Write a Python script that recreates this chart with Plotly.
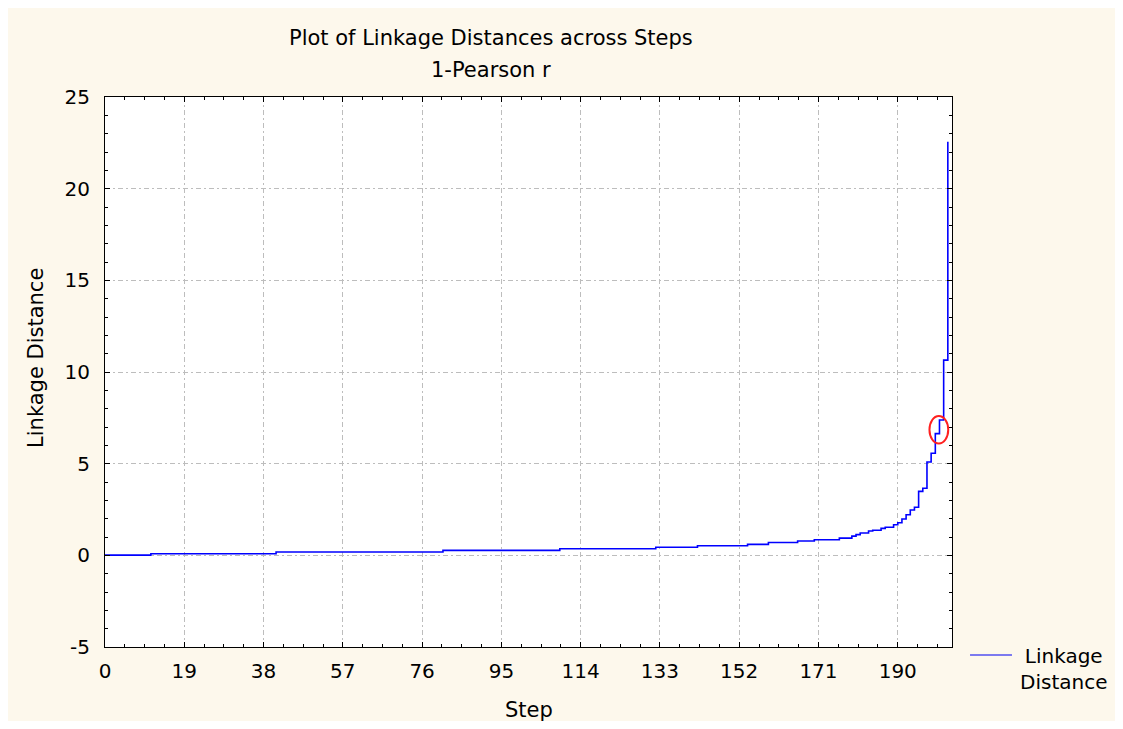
import plotly.graph_objects as go

# Step at which the linkage distance changes, and the new distance value
steps = [0, 11, 41, 81, 109, 132, 142, 154, 159, 166, 170, 176, 179, 180, 181,
         183, 184, 186, 187, 189, 190, 191, 192, 193, 194, 195, 196, 197, 198,
         199, 200, 201, 202]
distances = [0.01, 0.09, 0.18, 0.27, 0.36, 0.44, 0.52, 0.60, 0.70, 0.78, 0.85,
             0.94, 1.05, 1.13, 1.22, 1.33, 1.37, 1.47, 1.53, 1.67, 1.78, 1.98,
             2.21, 2.47, 2.62, 3.49, 3.66, 5.09, 5.57, 6.64, 7.38, 10.65, 22.56]

x_ticks = [0, 19, 38, 57, 76, 95, 114, 133, 152, 171, 190]
y_ticks = [-5, 0, 5, 10, 15, 20, 25]

title_text = "Plot of Linkage Distances across Steps"
subtitle_text = "1-Pearson r"
x_title = "Step"
y_title = "Linkage Distance"
series_name = "Linkage<br>Distance"

# highlighted region (red ellipse) in data units
highlight_x = [197.6, 202.1]
highlight_y = [6.1, 7.6]

FONT = "DejaVu Sans"
CREAM = "#FDF8EC"
GRID = "#BDBDBD"
LINE_COLOR = "#0000FF"

fig = go.Figure()
fig.add_trace(go.Scatter(
    x=steps, y=distances, mode="lines", line_shape="hv",
    line=dict(color=LINE_COLOR, width=1.6), name=series_name, showlegend=False,
))

axis_common = dict(
    showline=True, linecolor="black", linewidth=1, mirror="allticks",
    ticks="inside", ticklen=5, tickcolor="black", tickwidth=1,
    showgrid=True, gridcolor=GRID, gridwidth=1, griddash="5px,3px,2px,3px",
    zeroline=False, tickfont=dict(family=FONT, size=20, color="black"),
)

fig.update_xaxes(range=[0, 203], tickvals=x_ticks, ticktext=[str(v) for v in x_ticks],
                 minor=dict(dtick=4.75, tick0=0, ticks="inside", ticklen=3,
                            tickcolor="black", showgrid=False),
                 ticklabelstandoff=6, **axis_common)
fig.update_yaxes(range=[-5, 25], tickvals=y_ticks, ticktext=[str(v) for v in y_ticks],
                 minor=dict(dtick=1, tick0=0, ticks="inside", ticklen=3,
                            tickcolor="black", showgrid=False),
                 ticklabelstandoff=10, **axis_common)

# highlight ellipse
fig.add_shape(type="circle", xref="x", yref="y",
              x0=highlight_x[0], x1=highlight_x[1], y0=highlight_y[0], y1=highlight_y[1],
              line=dict(color="#FF2020", width=2))

# legend (swatch + centred two-line label), placed outside the plot on the right
fig.add_shape(type="line", xref="paper", yref="paper", x0=1.0213, x1=1.0708,
              y0=-0.0146, y1=-0.0146, line=dict(color="#5050F0", width=1.5))
fig.add_annotation(text=series_name, xref="paper", yref="paper", x=1.1317, y=0.009,
                   showarrow=False, xanchor="center", yanchor="top", align="center",
                   font=dict(family=FONT, size=20, color="black"))

fig.add_annotation(text=title_text, xref="paper", yref="paper", x=0.4557, y=1.1073,
                   showarrow=False, xanchor="center", yanchor="middle",
                   font=dict(family=FONT, size=21, color="black"))
fig.add_annotation(text=subtitle_text, xref="paper", yref="paper", x=0.4557, y=1.049,
                   showarrow=False, xanchor="center", yanchor="middle",
                   font=dict(family=FONT, size=21, color="black"))
fig.add_annotation(text=x_title, xref="paper", yref="paper", x=0.5, y=-0.1145,
                   showarrow=False, xanchor="center", yanchor="middle",
                   font=dict(family=FONT, size=21, color="black"))
fig.add_annotation(text=y_title, xref="paper", yref="paper", x=-0.0815, y=0.5255,
                   showarrow=False, xanchor="center", yanchor="middle", textangle=-90,
                   font=dict(family=FONT, size=21, color="black"))

fig.update_layout(
    width=1110, height=713,
    margin=dict(l=97, r=166, t=89, b=74),
    paper_bgcolor=CREAM, plot_bgcolor="white",
    showlegend=False,
)

fig.write_html("out.html")
